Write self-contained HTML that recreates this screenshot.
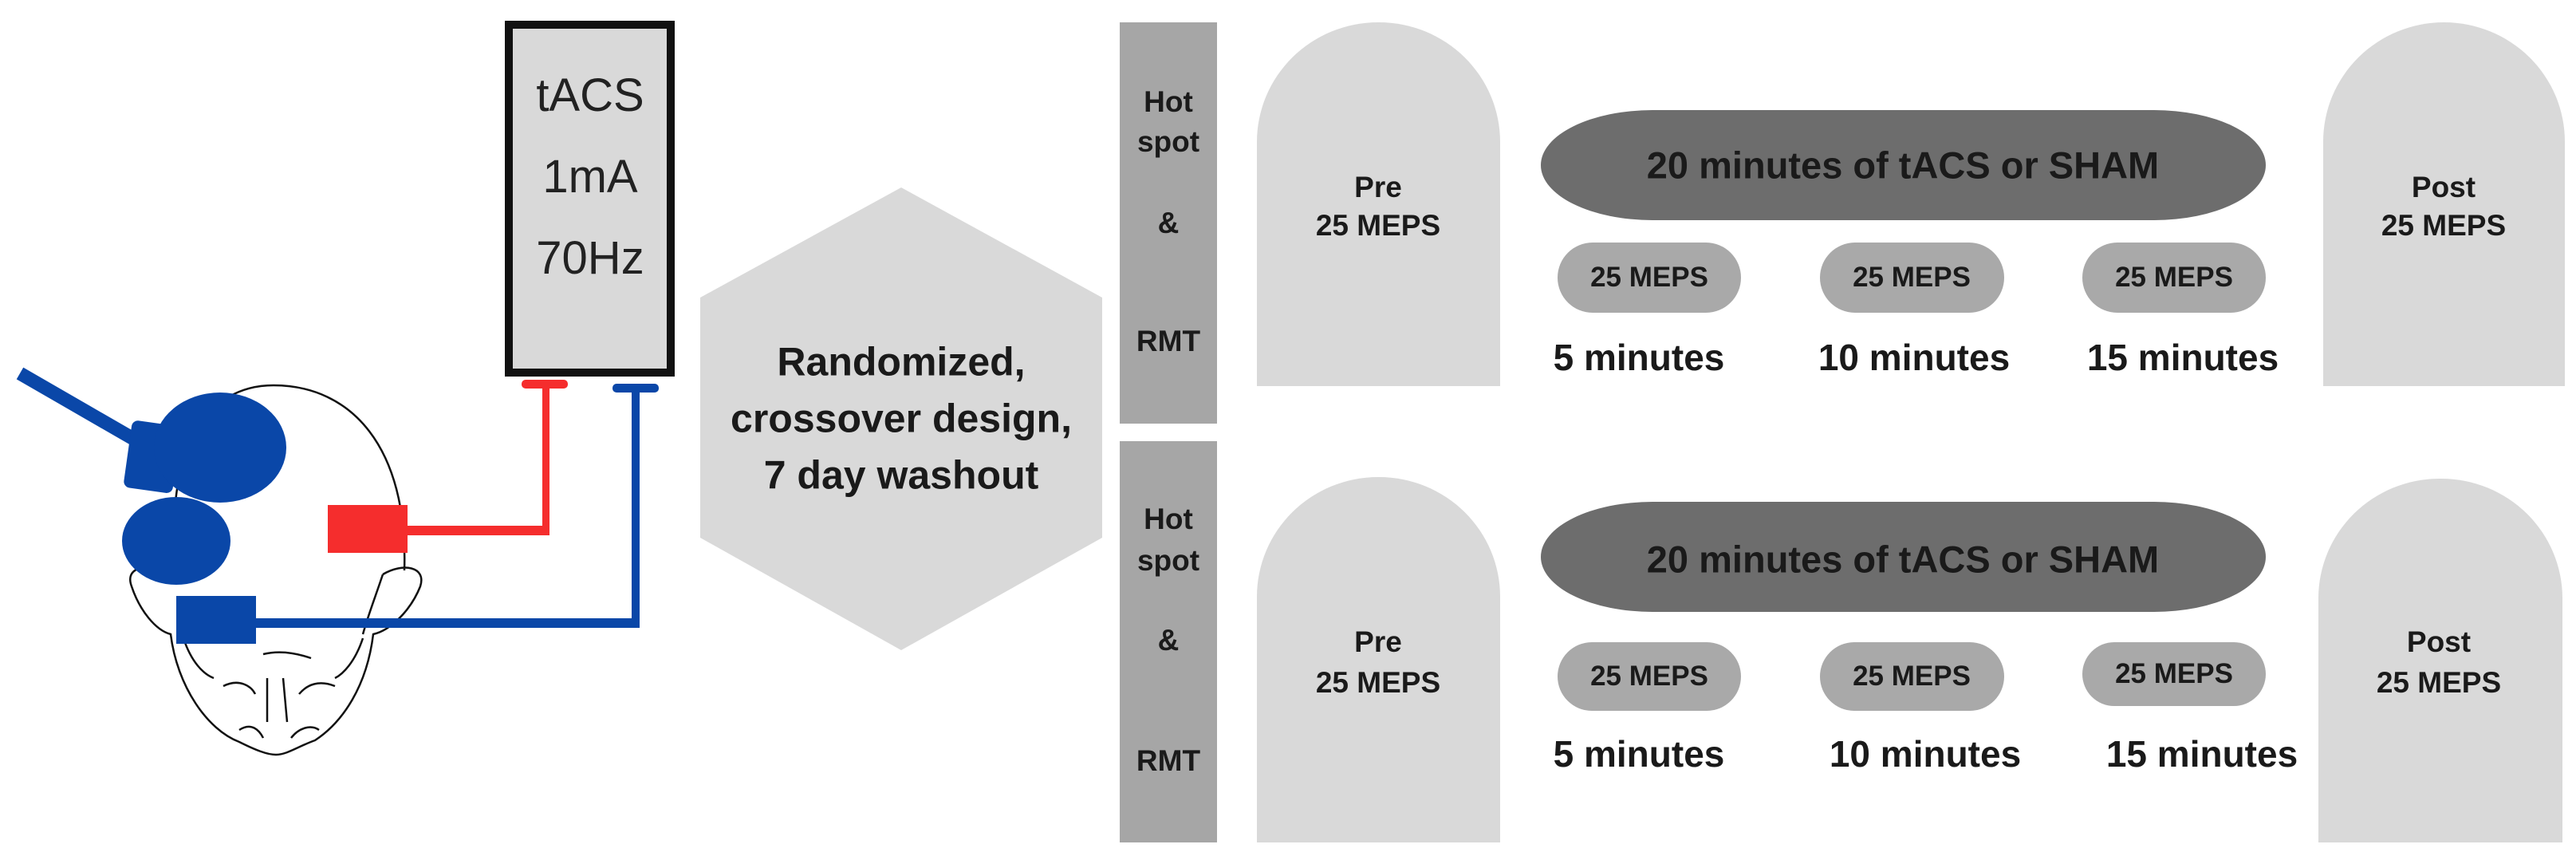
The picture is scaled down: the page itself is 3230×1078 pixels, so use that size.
<!DOCTYPE html>
<html><head><meta charset="utf-8"><style>
html,body{margin:0;padding:0;background:#fff}
body{width:3230px;height:1078px;position:relative;overflow:hidden;font-family:"Liberation Sans",sans-serif}
.a{position:absolute}
.t{position:absolute;transform:translate(-50%,-50%);white-space:nowrap;font-weight:bold;color:#1a1a1a;text-align:center}
.bar{position:absolute;background:#a6a6a6}
.arch{position:absolute;background:#d9d9d9;border-radius:152px 152px 0 0/150px 150px 0 0}
.pill{position:absolute;background:#6d6d6d;border-radius:140px/69px}
.sp{position:absolute;background:#a9a9a9;border-radius:44px}
</style></head><body>
<svg class="a" style="left:0;top:0" width="1400" height="1078">
 <g fill="none" stroke="#111" stroke-width="2.5">
  <path d="M221,720 C205,560 260,483 343,483 C440,483 512,560 507,715"/>
  <path d="M221,720 C190,705 155,708 165,735 C175,765 195,790 214,795 C222,860 260,915 300,930 C320,940 335,946 346,946 C360,946 375,935 395,928 C430,905 460,860 468,795 C490,790 515,765 527,735 C535,710 505,705 480,720"/>
  <path d="M230,800 C240,830 255,845 268,850 M455,800 C445,830 430,845 420,850"/>
  <path d="M280,860 C300,850 315,860 320,870 M375,870 C385,858 400,852 420,860"/>
  <path d="M335,850 L335,905 M355,850 L360,905"/>
  <path d="M300,915 C315,905 325,915 330,925 M365,925 C375,912 390,908 400,915"/>
  <path d="M330,820 C350,815 370,818 390,825"/>
  <path d="M480,720 C470,750 462,770 455,795"/>
 </g>
 <line x1="25" y1="468" x2="195" y2="566" stroke="#0a47a8" stroke-width="17"/>
 <rect x="160" y="530" width="62" height="85" rx="8" fill="#0a47a8" transform="rotate(8 190 572)"/>
 <ellipse cx="276" cy="561" rx="83" ry="69" fill="#0a47a8"/>
 <ellipse cx="221" cy="678" rx="68" ry="55" fill="#0a47a8"/>
 <rect x="411" y="633" width="100" height="60" fill="#f52d2d"/>
 <rect x="505" y="659" width="183" height="12" fill="#f52d2d"/>
 <rect x="680" y="478" width="9" height="193" fill="#f52d2d"/>
 <rect x="654" y="476" width="58" height="11" rx="5" fill="#f52d2d"/>
 <rect x="221" y="747" width="100" height="60" fill="#0a47a8"/>
 <rect x="315" y="775" width="487" height="12" fill="#0a47a8"/>
 <rect x="792" y="484" width="10" height="303" fill="#0a47a8"/>
 <rect x="768" y="481" width="58" height="11" rx="5" fill="#0a47a8"/>
 <polygon points="1130,235 1382,373 1382,674 1130,815 878,674 878,373" fill="#d9d9d9"/>
</svg>
<div class="a" style="left:633px;top:26px;width:193px;height:426px;background:#d9d9d9;border:10px solid #111"></div>
<div class="t" style="left:740px;top:222px;font-weight:normal;font-size:58px;line-height:102px;color:#222">tACS<br>1mA<br>70Hz</div>
<div class="t" style="left:1130px;top:525px;font-size:50px;line-height:71px">Randomized,<br>crossover design,<br>7 day washout</div>

<div class="bar" style="left:1404px;top:28px;width:122px;height:503px"></div>
<div class="bar" style="left:1404px;top:553px;width:122px;height:503px"></div>
<div class="arch" style="left:1576px;top:28px;width:305px;height:456px"></div>
<div class="arch" style="left:1576px;top:598px;width:305px;height:458px"></div>
<div class="arch" style="left:2913px;top:28px;width:303px;height:456px"></div>
<div class="arch" style="left:2907px;top:600px;width:306px;height:456px"></div>
<div class="pill" style="left:1932px;top:138px;width:909px;height:138px"></div>
<div class="pill" style="left:1932px;top:629px;width:909px;height:138px"></div>
<div class="sp" style="left:1953px;top:304px;width:230px;height:88px"></div>
<div class="sp" style="left:2282px;top:304px;width:231px;height:88px"></div>
<div class="sp" style="left:2611px;top:304px;width:230px;height:88px"></div>
<div class="sp" style="left:1953px;top:805px;width:230px;height:86px"></div>
<div class="sp" style="left:2282px;top:805px;width:231px;height:86px"></div>
<div class="sp" style="left:2611px;top:805px;width:230px;height:80px"></div>

<div class="t" style="left:1465px;top:128px;font-size:37px">Hot</div>
<div class="t" style="left:1465px;top:178px;font-size:37px">spot</div>
<div class="t" style="left:1465px;top:280px;font-size:37px">&amp;</div>
<div class="t" style="left:1465px;top:428px;font-size:37px">RMT</div>
<div class="t" style="left:1465px;top:651px;font-size:37px">Hot</div>
<div class="t" style="left:1465px;top:703px;font-size:37px">spot</div>
<div class="t" style="left:1465px;top:803px;font-size:37px">&amp;</div>
<div class="t" style="left:1465px;top:954px;font-size:37px">RMT</div>

<div class="t" style="left:1728px;top:259px;font-size:37px;line-height:48px">Pre<br>25 MEPS</div>
<div class="t" style="left:1728px;top:830px;font-size:37px;line-height:51px">Pre<br>25 MEPS</div>
<div class="t" style="left:3064px;top:259px;font-size:37px;line-height:48px">Post<br>25 MEPS</div>
<div class="t" style="left:3058px;top:830px;font-size:37px;line-height:51px">Post<br>25 MEPS</div>

<div class="t" style="left:2386px;top:207px;font-size:47px">20 minutes of tACS or SHAM</div>
<div class="t" style="left:2386px;top:701px;font-size:47px">20 minutes of tACS or SHAM</div>

<div class="t" style="left:2068px;top:348px;font-size:35px">25 MEPS</div>
<div class="t" style="left:2397px;top:348px;font-size:35px">25 MEPS</div>
<div class="t" style="left:2726px;top:348px;font-size:35px">25 MEPS</div>
<div class="t" style="left:2068px;top:848px;font-size:35px">25 MEPS</div>
<div class="t" style="left:2397px;top:848px;font-size:35px">25 MEPS</div>
<div class="t" style="left:2726px;top:845px;font-size:35px">25 MEPS</div>

<div class="t" style="left:2055px;top:448px;font-size:46px">5 minutes</div>
<div class="t" style="left:2400px;top:448px;font-size:46px">10 minutes</div>
<div class="t" style="left:2737px;top:448px;font-size:46px">15 minutes</div>
<div class="t" style="left:2055px;top:945px;font-size:46px">5 minutes</div>
<div class="t" style="left:2414px;top:945px;font-size:46px">10 minutes</div>
<div class="t" style="left:2761px;top:945px;font-size:46px">15 minutes</div>
</body></html>
